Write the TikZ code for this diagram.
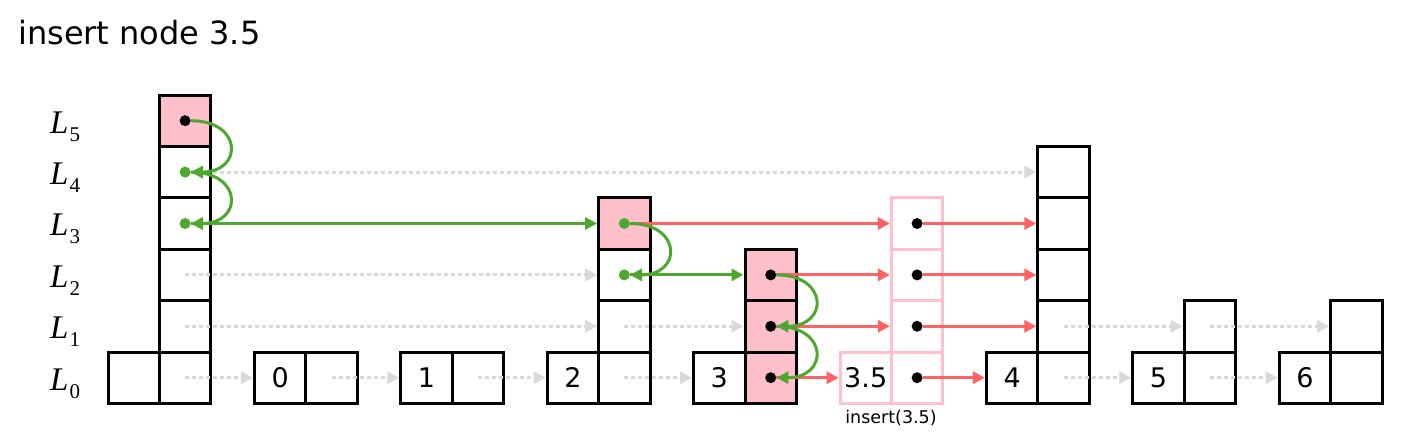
\documentclass[tikz,border=0pt]{standalone}
\usepackage{fontspec}
\setsansfont{DejaVu Sans}
\newfontfamily\lvlfont{Liberation Serif}
\usetikzlibrary{arrows.meta}
\definecolor{pinkfill}{HTML}{FFC0CB}
\definecolor{pinkline}{HTML}{FFC0CB}
\definecolor{redline}{HTML}{FF6262}
\definecolor{grn}{HTML}{4EA72E}
\definecolor{lgray}{HTML}{D9D9D9}
\newcommand\lvltext[1]{{\lvlfont\itshape L}\kern1pt\raisebox{-8pt}{\lvlfont\fontsize{21}{24}\selectfont #1}}
\begin{document}
\begin{tikzpicture}[x=1pt,y=-1pt,
  cell/.style={draw, line width=3pt, minimum size=51.4pt, inner sep=0pt, font=\sffamily\fontsize{27}{31}\selectfont},
  pcell/.style={cell, fill=pinkfill},
  newcell/.style={cell, draw=pinkline},
  dot/.style={circle, fill=black, inner sep=0pt, minimum size=11pt},
  gdot/.style={dot, fill=grn},
  tipstyle/.style={-{Triangle[length=12pt,width=12pt]}},
  grayarrow/.style={tipstyle, draw=lgray, line width=3pt, dash pattern=on 4pt off 3pt},
  redarrow/.style={tipstyle, draw=redline, line width=3pt},
  grnarrow/.style={tipstyle, draw=grn, line width=3pt},
  lvl/.style={font=\lvlfont\fontsize{33}{38}\selectfont, inner sep=0pt}
]
\useasboundingbox (0,0) rectangle (1415,447);

% title
\node[anchor=base west, font=\sffamily\fontsize{32}{37}\selectfont, inner sep=0pt] (title) at (18,44) {insert node 3.5};

% level labels
\foreach \i in {0,...,5}
  \node[lvl, anchor=base west] (lab\i) at (50,{390-51.4*\i}) {\lvltext{\i}};

% head
\node[cell] (hK) at (133.7,377.7) {};
\foreach \i in {0,...,4} \node[cell] (hL\i) at (185.1,{377.7-51.4*\i}) {};
\node[pcell] (hL5) at (185.1,120.7) {};

% node 0
\node[cell] (n0K) at (280.1,377.7) {0};
\node[cell] (n0L0) at (331.5,377.7) {};
% node 1
\node[cell] (n1K) at (426.5,377.7) {1};
\node[cell] (n1L0) at (477.9,377.7) {};
% node 2
\node[cell] (n2K) at (572.9,377.7) {2};
\foreach \i in {0,...,2} \node[cell] (n2L\i) at (624.3,{377.7-51.4*\i}) {};
\node[pcell] (n2L3) at (624.3,223.5) {};
% node 3
\node[cell] (n3K) at (719.3,377.7) {3};
\foreach \i in {0,...,2} \node[pcell] (n3L\i) at (770.7,{377.7-51.4*\i}) {};
% node 3.5 (new)
\node[newcell] (nnK) at (865.7,377.7) {3.5};
\foreach \i in {0,...,3} \node[newcell] (nnL\i) at (917.1,{377.7-51.4*\i}) {};
\node[font=\sffamily\fontsize{17.5}{21}\selectfont] (ins) at (891,418) {insert(3.5)};
% node 4
\node[cell] (n4K) at (1012.1,377.7) {4};
\foreach \i in {0,...,4} \node[cell] (n4L\i) at (1063.5,{377.7-51.4*\i}) {};
% node 5
\node[cell] (n5K) at (1158.5,377.7) {5};
\foreach \i in {0,1} \node[cell] (n5L\i) at (1209.9,{377.7-51.4*\i}) {};
% node 6
\node[cell] (n6K) at (1304.9,377.7) {6};
\foreach \i in {0,1} \node[cell] (n6L\i) at (1356.3,{377.7-51.4*\i}) {};

% gray dotted links
\draw[grayarrow] (hL0.center) -- (n0K.west);
\draw[grayarrow] (n0L0.center) -- (n1K.west);
\draw[grayarrow] (n1L0.center) -- (n2K.west);
\draw[grayarrow] (n2L0.center) -- (n3K.west);
\draw[grayarrow] (n4L0.center) -- (n5K.west);
\draw[grayarrow] (n5L0.center) -- (n6K.west);
\draw[grayarrow] (hL1.center) -- (n2L1.west);
\draw[grayarrow] (n2L1.center) -- (n3L1.west);
\draw[grayarrow] (n4L1.center) -- (n5L1.west);
\draw[grayarrow] (n5L1.center) -- (n6L1.west);
\draw[grayarrow] (hL2.center) -- (n2L2.west);
\draw[grayarrow] (hL4.center) -- (n4L4.west);

% dots
\node[dot] (hD5) at (hL5.center) {};
\node[gdot] (hD4) at (hL4.center) {};
\node[gdot] (hD3) at (hL3.center) {};
\node[gdot] (n2D3) at (n2L3.center) {};
\node[gdot] (n2D2) at (n2L2.center) {};
\foreach \i in {0,1,2} \node[dot] (n3D\i) at (n3L\i.center) {};
\foreach \i in {0,...,3} \node[dot] (nnD\i) at (nnL\i.center) {};

% red links
\draw[redarrow] (n2D3) -- (nnL3.west);
\draw[redarrow] (nnD3) -- (n4L3.west);
\draw[redarrow] (n3D2) -- (nnL2.west);
\draw[redarrow] (nnD2) -- (n4L2.west);
\draw[redarrow] (n3D1) -- (nnL1.west);
\draw[redarrow] (nnD1) -- (n4L1.west);
\draw[redarrow] (n3D0) -- (nnK.west);
\draw[redarrow] (nnD0) -- (n4K.west);

% green search path
\draw[grnarrow] (hD5) .. controls +(58,0) and +(58,0) .. (hD4);
\draw[grnarrow] (hD4) .. controls +(58,0) and +(58,0) .. (hD3);
\draw[grnarrow] (hD3) -- (n2L3.west);
\draw[grnarrow] (n2D3) .. controls +(58,0) and +(58,0) .. (n2D2);
\draw[grnarrow] (n2D2) -- (n3L2.west);
\draw[grnarrow] (n3D2) .. controls +(58,0) and +(58,0) .. (n3D1);
\draw[grnarrow] (n3D1) .. controls +(58,0) and +(58,0) .. (n3D0);
\end{tikzpicture}
\end{document}
